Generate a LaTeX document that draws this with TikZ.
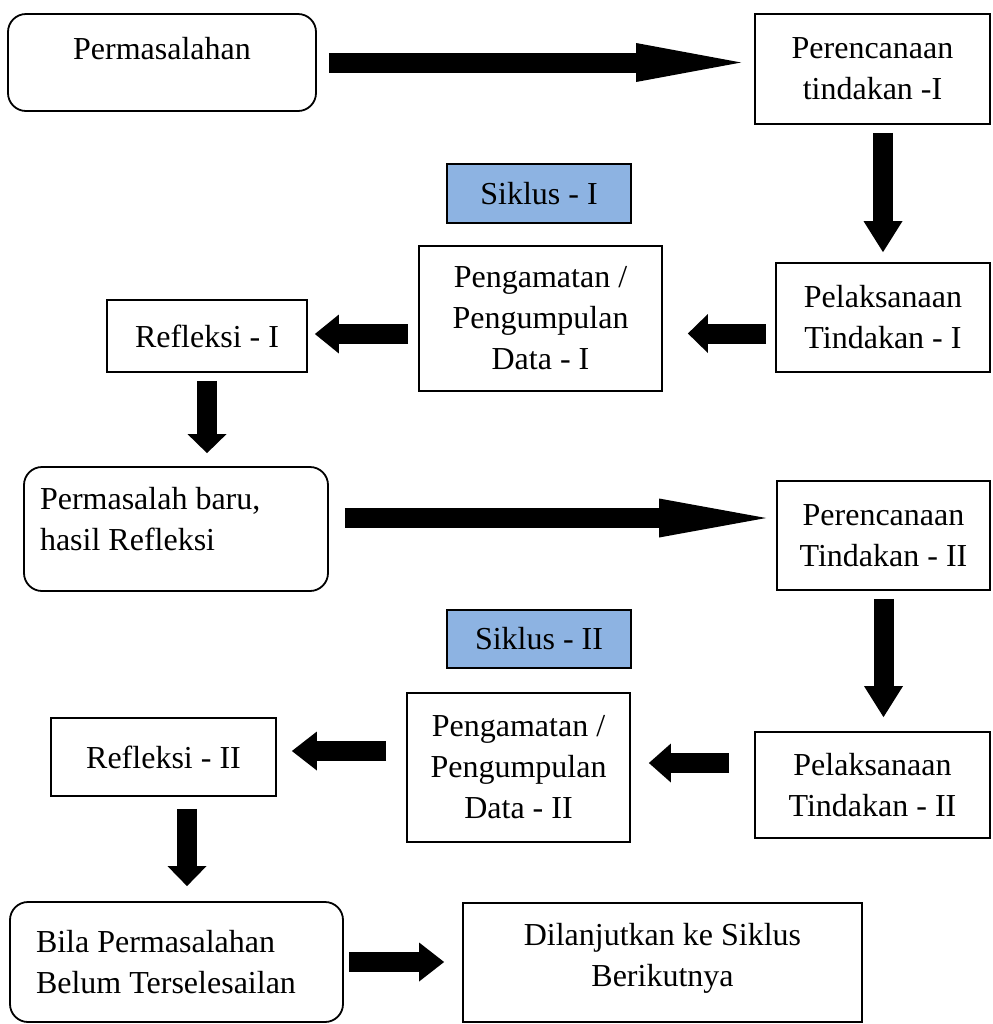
\documentclass[tikz,border=0pt]{standalone}
\usepackage{fontspec}
\setmainfont{Liberation Serif}
\usetikzlibrary{arrows.meta}
\definecolor{cycleblue}{HTML}{8DB3E2}

\begin{document}
\begin{tikzpicture}[
    x=0.5pt, y=-0.5pt,
    box/.style={rectangle, draw, line width=0.9pt, inner sep=0pt, align=center,
                font=\fontsize{16}{20.5}\selectfont},
    roundbox/.style={box, rounded corners=9pt},
    cyclebox/.style={box, fill=cycleblue},
    blockarrow/.style={line width=10pt, -{Triangle[length=#1, width=19.5pt, line width=0pt]}},
]
    \useasboundingbox (0,0) rectangle (992,1024);

    % Cycle I
    \node[roundbox, minimum width=154pt, minimum height=48.5pt, text depth=14pt]
        at (162,62.5) (prob) {Permasalahan};
    \node[box, minimum width=117.5pt, minimum height=55pt]
        at (872.5,69) (plan1) {Perencanaan\\tindakan -I};
    \node[cyclebox, minimum width=92pt, minimum height=29.5pt]
        at (539,193.5) (cyc1) {Siklus - I};
    \node[box, minimum width=107pt, minimum height=54.5pt]
        at (883,317.5) (act1) {Pelaksanaan\\Tindakan - I};
    \node[box, minimum width=121.5pt, minimum height=72.5pt]
        at (540.5,318.5) (obs1) {Pengamatan /\\Pengumpulan\\Data - I};
    \node[box, minimum width=100pt, minimum height=36pt]
        at (207,336) (refl1) {Refleksi - I};

    % Cycle II
    \node[roundbox, minimum width=152pt, minimum height=62pt, text width=136pt,
          align=flush left, text depth=30.5pt]
        at (176,529) (new) {Permasalah baru,\\hasil Refleksi};
    \node[box, minimum width=106.5pt, minimum height=54.5pt]
        at (883.5,535.5) (plan2) {Perencanaan\\Tindakan - II};
    \node[cyclebox, minimum width=92pt, minimum height=29pt]
        at (539,639) (cyc2) {Siklus - II};
    \node[box, minimum width=117.5pt, minimum height=53pt]
        at (872.5,785) (act2) {Pelaksanaan\\Tindakan - II};
    \node[box, minimum width=111.5pt, minimum height=74.5pt]
        at (518.5,767.5) (obs2) {Pengamatan /\\Pengumpulan\\Data - II};
    \node[box, minimum width=112.5pt, minimum height=39pt]
        at (163.5,757) (refl2) {Refleksi - II};

    % Outcome
    \node[roundbox, minimum width=166.5pt, minimum height=60pt, text width=140.5pt,
          align=flush left]
        at (176.5,962) (last) {Bila Permasalahan\\Belum Terselesailan};
    \node[box, minimum width=199.5pt, minimum height=59.5pt, text depth=7.5pt]
        at (662.5,962.5) (next) {Dilanjutkan ke Siklus\\Berikutnya};

    % Block arrows
    \draw[blockarrow=52.5pt, shorten <=6pt, shorten >=6.5pt] (prob.east) -- (prob.east -| plan1.west);
    \draw[blockarrow=15.5pt, shorten <=4pt, shorten >=5pt] (act1.north |- plan1.south) -- (act1.north);
    \draw[blockarrow=10pt, shorten <=4.5pt, shorten >=12.5pt] ([yshift=-8pt]act1.west) -- ([yshift=-8pt]act1.west -| obs1.east);
    \draw[blockarrow=12pt, shorten <=5pt, shorten >=3.5pt] ([yshift=1pt]refl1.east -| obs1.west) -- ([yshift=1pt]refl1.east);
    \draw[blockarrow=9.5pt, shorten <=4pt, shorten >=6.5pt] (refl1.south) -- (refl1.south |- new.north);
    \draw[blockarrow=53.5pt, shorten <=8pt, shorten >=5pt] ([yshift=5.5pt]new.east) -- ([yshift=5.5pt]new.east -| plan2.west);
    \draw[blockarrow=15.5pt, shorten <=4pt, shorten >=7pt] (plan2.south) -- (plan2.south |- act2.north);
    \draw[blockarrow=11pt, shorten <=12.5pt, shorten >=9pt] ([yshift=11pt]act2.west) -- ([yshift=11pt]act2.west -| obs2.east);
    \draw[blockarrow=12.5pt, shorten <=10pt, shorten >=7.5pt] ([yshift=3pt]refl2.east -| obs2.west) -- ([yshift=3pt]refl2.east);
    \draw[blockarrow=10pt, shorten <=6pt, shorten >=7.5pt] ([xshift=11.75pt]refl2.south) -- ([xshift=11.75pt]refl2.south |- last.north);
    \draw[blockarrow=12.5pt, shorten <=2.5pt, shorten >=9pt] (last.east) -- (last.east -| next.west);
\end{tikzpicture}
\end{document}
